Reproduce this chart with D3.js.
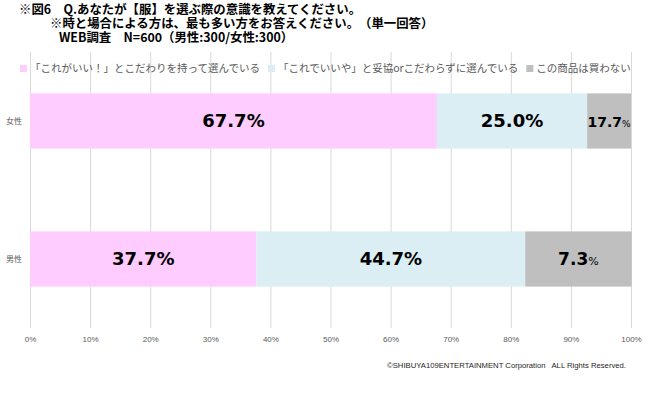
<!DOCTYPE html>
<html>
<head>
<meta charset="utf-8">
<script src="https://cdn.jsdelivr.net/npm/d3@7"></script>
<style>
  body { margin: 0; background: #fff; }
  svg { display: block; }
</style>
</head>
<body>
<div id="wrapper"></div>
<script>
// values
const categories = ["女性", "男性"];
const seriesNames = [
  "「これがいい！」とこだわりを持って選んでいる",
  "「これでいいや」と妥協orこだわらずに選んでいる",
  "この商品は買わない",
];
const likeIt = [67.7, 37.7];
const settle = [25.0, 44.7];
const notBuy = [7.3, 17.7];
// labels as printed on the bars
const likeItLabels = ["67.7", "37.7"];
const settleLabels = ["25.0", "44.7"];
const notBuyLabels = ["17.7", "7.3"];
const tickValues = [0, 10, 20, 30, 40, 50, 60, 70, 80, 90, 100];
const titleLines = [
  "※図6　Q.あなたが【服】を選ぶ際の意識を教えてください。",
  "※時と場合による方は、最も多い方をお答えください。　（単一回答）",
  "WEB調査　N=600（男性:300/女性:300）",
];

const colors = ["#FFCCFF", "#DAEEF3", "#BFBFBF"];
const jp = "'Noto Sans CJK JP', 'Noto Sans', sans-serif";

const dimensions = {
  width: 650,
  height: 395,
  margin: { top: 52, right: 19, bottom: 67, left: 30 },
};
dimensions.boundedWidth =
  dimensions.width - dimensions.margin.left - dimensions.margin.right;
dimensions.boundedHeight =
  dimensions.height - dimensions.margin.top - dimensions.margin.bottom;

const dataset = categories.map((c, i) => ({
  category: c,
  values: [likeIt[i], settle[i], notBuy[i]],
  labels: [likeItLabels[i], settleLabels[i], notBuyLabels[i]],
}));

const svg = d3
  .select("#wrapper")
  .append("svg")
  .attr("width", dimensions.width)
  .attr("height", dimensions.height);

// title
const titleX = [19, 50, 59];
svg
  .append("g")
  .selectAll("text")
  .data(titleLines)
  .join("text")
  .attr("x", (d, i) => titleX[i])
  .attr("y", (d, i) => 14 + i * 14)
  .style("font-family", jp)
  .style("font-weight", "700")
  .style("font-size", "12.4px")
  .attr("fill", "#000")
  .text((d) => d);

const bounds = svg
  .append("g")
  .attr("transform", `translate(${dimensions.margin.left},${dimensions.margin.top})`);

const xScale = d3
  .scaleLinear()
  .domain([0, 100])
  .range([0, dimensions.boundedWidth]);

const yScale = d3
  .scaleBand()
  .domain(categories)
  .range([0, dimensions.boundedHeight])
  .paddingInner(0.6)
  .paddingOuter(0.3);

// gridlines
bounds
  .append("g")
  .selectAll("line")
  .data(tickValues)
  .join("line")
  .attr("x1", (d) => xScale(d) + 0.5)
  .attr("x2", (d) => xScale(d) + 0.5)
  .attr("y1", 0)
  .attr("y2", dimensions.boundedHeight)
  .attr("stroke", "#d9d9d9")
  .attr("stroke-width", 1);

// x axis labels
const xAxis = d3
  .axisBottom(xScale)
  .tickValues(tickValues)
  .tickSize(0)
  .tickPadding(8)
  .tickFormat((d) => d + "%");

bounds
  .append("g")
  .attr("transform", `translate(0,${dimensions.boundedHeight})`)
  .call(xAxis)
  .call((g) => g.select(".domain").remove())
  .selectAll("text")
  .attr("fill", "#595959")
  .style("font-family", "'Liberation Sans', sans-serif")
  .style("font-size", "8px");

// category labels
const yAxis = d3.axisLeft(yScale).tickSize(0).tickPadding(8);
bounds
  .append("g")
  .call(yAxis)
  .call((g) => g.select(".domain").remove())
  .selectAll("text")
  .attr("fill", "#595959")
  .style("font-family", jp)
  .style("font-size", "8px");

// stacked segments
const rows = bounds
  .selectAll(".row")
  .data(dataset)
  .join("g")
  .attr("class", "row")
  .attr("transform", (d) => `translate(0,${yScale(d.category)})`);

const segments = rows
  .selectAll("g")
  .data((d) => {
    let start = 0;
    return d.values.map((v, i) => {
      const seg = { start, end: start + v, label: d.labels[i], series: i };
      start += v;
      return seg;
    });
  })
  .join("g");

segments
  .append("rect")
  .attr("x", (d) => xScale(d.start))
  .attr("y", 0)
  .attr("width", (d) => xScale(d.end) - xScale(d.start))
  .attr("height", yScale.bandwidth())
  .attr("fill", (d) => colors[d.series]);

const barLabel = segments
  .append("text")
  .attr("x", (d) => (xScale(d.start) + xScale(d.end)) / 2)
  .attr("y", yScale.bandwidth() / 2)
  .attr("dy", "0.36em")
  .attr("text-anchor", "middle")
  .attr("fill", "#000")
  .style("font-family", "'DejaVu Sans', sans-serif")
  .style("font-weight", "700");

// narrow grey segment gets smaller numbers and a small percent sign
const numSize = (d) => {
  if (d.series < 2) return 18;
  return xScale(d.end) - xScale(d.start) < 60 ? 14 : 17;
};
const pctSize = (d) => {
  if (d.series < 2) return 18;
  return xScale(d.end) - xScale(d.start) < 60 ? 9 : 11;
};

barLabel
  .append("tspan")
  .style("font-size", (d) => numSize(d) + "px")
  .text((d) => d.label);
barLabel
  .append("tspan")
  .style("font-size", (d) => pctSize(d) + "px")
  .style("font-weight", (d) => (d.series < 2 ? "700" : "400"))
  .text("%");

// legend
const legend = svg.append("g").attr("transform", "translate(20,0)");
let lx = 0;
seriesNames.forEach((name, i) => {
  const item = legend.append("g").attr("transform", `translate(${lx},0)`);
  item
    .append("rect")
    .attr("x", 0)
    .attr("y", 65)
    .attr("width", 7)
    .attr("height", 7)
    .attr("fill", colors[i]);
  const t = item
    .append("text")
    .attr("x", 10)
    .attr("y", 72)
    .attr("fill", "#595959")
    .style("font-family", jp)
    .style("font-size", "10.5px")
    .text(name);
  lx += 10 + t.node().getComputedTextLength() + 8;
});

// footer
svg
  .append("text")
  .attr("x", 626)
  .attr("y", 368)
  .attr("text-anchor", "end")
  .attr("fill", "#262626")
  .style("white-space", "pre")
  .style("font-family", "'Liberation Sans', sans-serif")
  .style("font-size", "7.7px")
  .text("©SHIBUYA109ENTERTAINMENT Corporation   ALL Rights Reserved.");
</script>
</body>
</html>
